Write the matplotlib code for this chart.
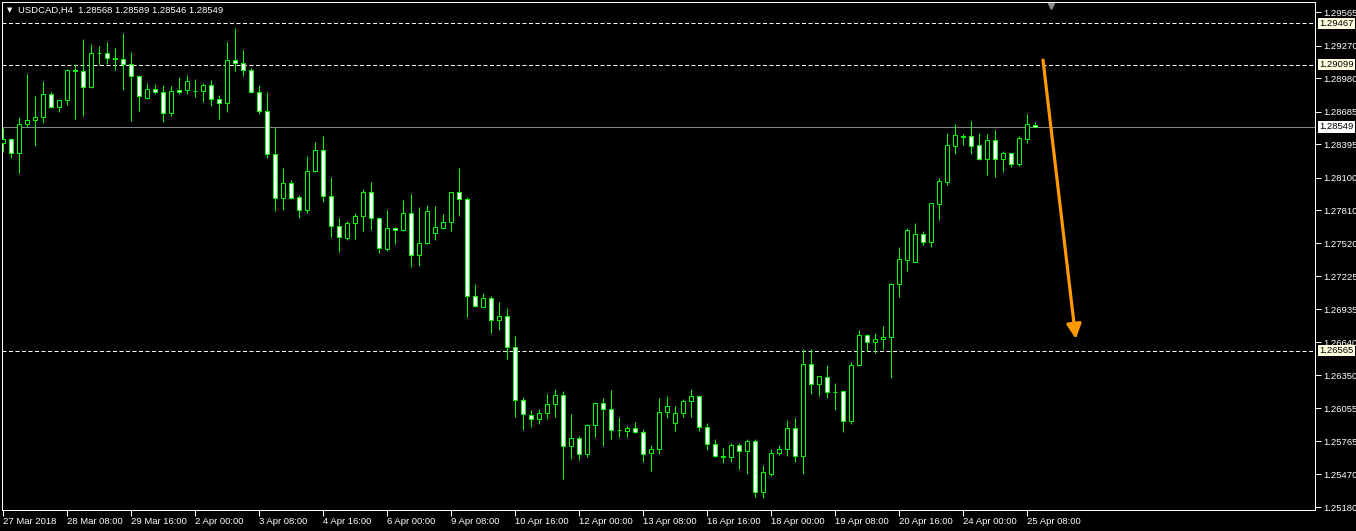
import matplotlib
matplotlib.use('Agg')
import matplotlib.pyplot as plt
import matplotlib.transforms as mtransforms
from matplotlib import font_manager
import numpy as np

names = set(f.name for f in font_manager.fontManager.ttflist)
if 'Liberation Sans Narrow' in names:
    plt.rcParams['font.family'] = ['Liberation Sans Narrow', 'DejaVu Sans']
    fs = 8
else:
    plt.rcParams['font.family'] = ['Liberation Sans', 'DejaVu Sans']
    fs = 6.8

symbol = 'USDCAD,H4'

opens = [1.28410, 1.28440, 1.28316, 1.28573, 1.28608, 1.28635, 1.28838, 1.28729, 1.28785, 1.29051,
         1.29042, 1.28900, 1.29202, 1.29200, 1.29157, 1.29149, 1.29104, 1.28998, 1.28808, 1.28883,
         1.28856, 1.28670, 1.28874, 1.28874, 1.28870, 1.28866, 1.28918, 1.28794, 1.28761, 1.29140,
         1.29113, 1.29051, 1.28856, 1.28688, 1.28307, 1.27917, 1.28050, 1.27926, 1.27811, 1.28156,
         1.28342, 1.27935, 1.27669, 1.27568, 1.27696, 1.27758, 1.27970, 1.27740, 1.27470, 1.27651,
         1.27634, 1.27790, 1.27412, 1.27518, 1.27607, 1.27657, 1.27704, 1.27970, 1.27908, 1.27049,
         1.26955, 1.27031, 1.26836, 1.26872, 1.26597, 1.26127, 1.25994, 1.25959, 1.26012, 1.26092,
         1.26172, 1.25720, 1.25791, 1.25649, 1.25906, 1.26101, 1.26048, 1.25862, 1.25853, 1.25879,
         1.25844, 1.25658, 1.25693, 1.26021, 1.25924, 1.26012, 1.26118, 1.26163, 1.25888, 1.25737,
         1.25631, 1.25629, 1.25729, 1.25676, 1.25764, 1.25312, 1.25472, 1.25658, 1.25693, 1.25879,
         1.25631, 1.26446, 1.26269, 1.26335, 1.26198, 1.26207, 1.25941, 1.26437, 1.26703, 1.26641,
         1.26668, 1.26690, 1.27155, 1.27372, 1.27355, 1.27598, 1.27530, 1.27865, 1.28065, 1.28384,
         1.28466, 1.28466, 1.28387, 1.28268, 1.28431, 1.28268, 1.28316, 1.28224, 1.28445, 1.28568]

highs = [1.28543, 1.28454, 1.28635, 1.29018, 1.28823, 1.28956, 1.28859, 1.28788, 1.29063, 1.29104,
         1.29328, 1.29284, 1.29266, 1.29302, 1.29246, 1.29382, 1.29213, 1.29010, 1.28936, 1.28930,
         1.28921, 1.28912, 1.28989, 1.29010, 1.28974, 1.28939, 1.28965, 1.28832, 1.29302, 1.29426,
         1.29231, 1.29069, 1.28921, 1.28859, 1.28543, 1.28188, 1.28077, 1.27946, 1.28295, 1.28416,
         1.28469, 1.28106, 1.27740, 1.27716, 1.27784, 1.27999, 1.28062, 1.27749, 1.27813, 1.27663,
         1.27902, 1.27955, 1.27840, 1.27858, 1.27849, 1.27778, 1.27975, 1.28186, 1.27929, 1.27158,
         1.27078, 1.27049, 1.26998, 1.26942, 1.26694, 1.26157, 1.26039, 1.26048, 1.26181, 1.26228,
         1.26207, 1.26006, 1.25808, 1.25917, 1.26110, 1.26145, 1.26219, 1.25977, 1.25897, 1.25932,
         1.25870, 1.25729, 1.26145, 1.26165, 1.26080, 1.26136, 1.26228, 1.26172, 1.25926, 1.25782,
         1.25702, 1.25752, 1.25746, 1.25782, 1.25782, 1.25554, 1.25693, 1.25734, 1.25953, 1.25971,
         1.26579, 1.26579, 1.26345, 1.26437, 1.26278, 1.26210, 1.26464, 1.26750, 1.26712, 1.26724,
         1.26783, 1.27164, 1.27486, 1.27654, 1.27698, 1.27627, 1.27878, 1.28097, 1.28496, 1.28575,
         1.28487, 1.28602, 1.28496, 1.28487, 1.28522, 1.28336, 1.28320, 1.28469, 1.28664, 1.28589]

lows = [1.28330, 1.28277, 1.28139, 1.28551, 1.28383, 1.28582, 1.28720, 1.28684, 1.28746, 1.28622,
        1.28649, 1.28895, 1.29095, 1.29110, 1.29056, 1.28879, 1.28605, 1.28693, 1.28800, 1.28844,
        1.28596, 1.28649, 1.28844, 1.28844, 1.28817, 1.28773, 1.28737, 1.28617, 1.28684, 1.29048,
        1.29003, 1.28847, 1.28661, 1.28272, 1.27802, 1.27816, 1.27910, 1.27740, 1.27784, 1.28150,
        1.27882, 1.27572, 1.27444, 1.27550, 1.27559, 1.27630, 1.27639, 1.27435, 1.27453, 1.27515,
        1.27630, 1.27311, 1.27320, 1.27515, 1.27550, 1.27648, 1.27630, 1.27763, 1.26868, 1.26951,
        1.26951, 1.26726, 1.26753, 1.26496, 1.25982, 1.25867, 1.25893, 1.25920, 1.25964, 1.25982,
        1.25433, 1.25610, 1.25601, 1.25628, 1.25805, 1.25725, 1.25787, 1.25805, 1.25805, 1.25835,
        1.25583, 1.25504, 1.25654, 1.25973, 1.25858, 1.25982, 1.25982, 1.25858, 1.25690, 1.25622,
        1.25575, 1.25581, 1.25521, 1.25477, 1.25273, 1.25259, 1.25454, 1.25645, 1.25637, 1.25583,
        1.25472, 1.26181, 1.26168, 1.26150, 1.26044, 1.25844, 1.25915, 1.26429, 1.26562, 1.26544,
        1.26579, 1.26322, 1.27045, 1.27276, 1.27350, 1.27503, 1.27488, 1.27728, 1.28038, 1.28310,
        1.28392, 1.28310, 1.28259, 1.28126, 1.28108, 1.28153, 1.28197, 1.28203, 1.28410, 1.28546]

closes = [1.28440, 1.28316, 1.28573, 1.28608, 1.28635, 1.28838, 1.28729, 1.28785, 1.29051, 1.29045,
          1.28900, 1.29202, 1.29200, 1.29157, 1.29150, 1.29104, 1.28998, 1.28821, 1.28883, 1.28856,
          1.28670, 1.28865, 1.28856, 1.28956, 1.28866, 1.28918, 1.28794, 1.28761, 1.29140, 1.29113,
          1.29051, 1.28856, 1.28688, 1.28307, 1.27917, 1.28050, 1.27917, 1.27811, 1.28156, 1.28342,
          1.27935, 1.27669, 1.27572, 1.27696, 1.27758, 1.27970, 1.27740, 1.27474, 1.27651, 1.27634,
          1.27784, 1.27412, 1.27518, 1.27802, 1.27660, 1.27704, 1.27970, 1.27908, 1.27049, 1.26960,
          1.27031, 1.26836, 1.26872, 1.26597, 1.26127, 1.26003, 1.25959, 1.26012, 1.26092, 1.26172,
          1.25720, 1.25791, 1.25649, 1.25906, 1.26101, 1.26048, 1.25862, 1.25860, 1.25879, 1.25844,
          1.25649, 1.25693, 1.26021, 1.26074, 1.26012, 1.26118, 1.26163, 1.25888, 1.25737, 1.25631,
          1.25629, 1.25729, 1.25676, 1.25764, 1.25312, 1.25489, 1.25658, 1.25693, 1.25879, 1.25631,
          1.26446, 1.26269, 1.26340, 1.26198, 1.26202, 1.25941, 1.26437, 1.26703, 1.26641, 1.26668,
          1.26686, 1.27155, 1.27377, 1.27634, 1.27598, 1.27533, 1.27873, 1.28068, 1.28387, 1.28475,
          1.28460, 1.28383, 1.28268, 1.28431, 1.28268, 1.28316, 1.28224, 1.28449, 1.28573, 1.28549]

time_labels = ['27 Mar 2018', '28 Mar 08:00', '29 Mar 16:00', '2 Apr 00:00', '3 Apr 08:00',
               '4 Apr 16:00', '6 Apr 00:00', '9 Apr 08:00', '10 Apr 16:00', '12 Apr 00:00',
               '13 Apr 08:00', '16 Apr 16:00', '18 Apr 00:00', '19 Apr 08:00', '20 Apr 16:00',
               '24 Apr 00:00', '25 Apr 08:00']
bars_per_label = 8

price_ticks = [1.29565, 1.29270, 1.28980, 1.28685, 1.28395, 1.28100, 1.27810, 1.27520,
               1.27225, 1.26935, 1.26640, 1.26350, 1.26055, 1.25765, 1.25470, 1.25180]

levels = [1.29467, 1.29099, 1.26565]
last_price = closes[-1]

# arrow drawn on the chart: (bar index, price)
arrow_start = (130.0, 1.29142)
arrow_end = (134.1, 1.26670)

green = '#00ff00'
px = 0.72

fig = plt.figure(figsize=(13.56, 5.31), dpi=100, facecolor='black')
ax = fig.add_axes([2 / 1356, 21 / 531, 1313 / 1356, 508 / 531])
ax.set_facecolor('black')

n = len(opens)
x = np.arange(n)
o = np.array(opens)
c = np.array(closes)
h = np.array(highs)
l = np.array(lows)

ax.vlines(x, l, h, color=green, linewidth=px, zorder=3)
bottom = np.minimum(o, c)
height = np.maximum(np.abs(c - o), 0.000001)
fill = ['white' if cc < oo else 'black' for oo, cc in zip(opens, closes)]
ax.bar(x, height, bottom=bottom, width=0.5, color=fill, edgecolor=green, linewidth=px, zorder=4)

for lv in levels:
    ax.axhline(lv, color='white', linewidth=px, linestyle=(0, (4, 2.5)), zorder=2)
ax.axhline(last_price, color='#7f8590', linewidth=px, zorder=2)

ax.annotate('', xy=arrow_end, xytext=arrow_start,
            arrowprops=dict(arrowstyle='-|>', color='#ff9900', lw=2.3, mutation_scale=22,
                            shrinkA=0, shrinkB=0), zorder=6)

ax.set_xlim(-0.125, 164)
ax.set_ylim(1.25155, 1.29656)

for s in ax.spines.values():
    s.set_color('white')
    s.set_linewidth(px)

ax.yaxis.tick_right()
ax.set_yticks(price_ticks)
ax.set_yticklabels(['%.5f' % p for p in price_ticks])
ax.tick_params(axis='y', colors='white', length=4, width=px, pad=2, labelsize=fs)

ax.set_xticks(np.arange(len(time_labels)) * bars_per_label)
ax.set_xticklabels(time_labels, ha='left')
ax.tick_params(axis='x', colors='white', length=4, width=px, pad=1, labelsize=fs)

trans = mtransforms.blended_transform_factory(ax.transAxes, ax.transData)
for lv in levels:
    ax.text(1.0035, lv, '%.5f' % lv, transform=trans, ha='left', va='center', fontsize=fs,
            color='black', bbox=dict(boxstyle='square,pad=0.12', fc='#ffffe0', ec='none'), zorder=7)
ax.text(1.0035, last_price, '%.5f' % last_price, transform=trans, ha='left', va='center', fontsize=fs,
        color='black', bbox=dict(boxstyle='square,pad=0.12', fc='white', ec='none'), zorder=7)

# chart shift marker
ax.plot([131], [0.993], marker='v', markersize=5, color='#8c8c8c',
        transform=mtransforms.blended_transform_factory(ax.transData, ax.transAxes), clip_on=False)

header = '%s  %.5f %.5f %.5f %.5f' % (symbol, opens[-1], highs[-1], lows[-1], closes[-1])
fig.text(7 / 1356, 1 - 10 / 531, '\u25bc', color='white', fontsize=5, va='center', ha='left',
         family='DejaVu Sans')
fig.text(18 / 1356, 1 - 10 / 531, header, color='white', fontsize=fs, va='center', ha='left')

fig.savefig('out.png', dpi=100, facecolor='black')
